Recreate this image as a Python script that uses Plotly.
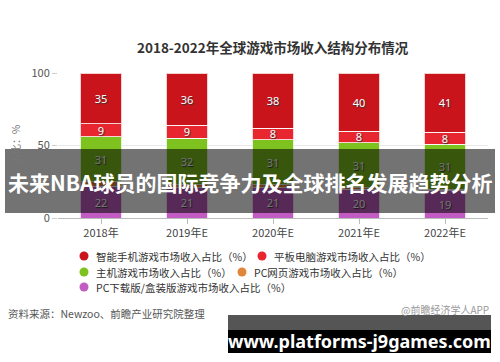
import plotly.graph_objects as go

categories = ["2018年", "2019年E", "2020年E", "2021年E", "2022年E"]
pc_download = [22, 21, 21, 20, 19]
pc_web = [3, 2, 2, 1, 1]
console = [31, 32, 31, 31, 31]
tablet = [9, 9, 8, 8, 8]
smartphone = [35, 36, 38, 40, 41]

series_names = [
    "PC下载版/盒装版游戏市场收入占比（%）",
    "PC网页游戏市场收入占比（%）",
    "主机游戏市场收入占比（%）",
    "平板电脑游戏市场收入占比（%）",
    "智能手机游戏市场收入占比（%）",
]
series_values = [pc_download, pc_web, console, tablet, smartphone]
colors = ["#c25bc2", "#e0863a", "#7dc21e", "#e8262f", "#c9141c"]
show_text = [True, False, True, True, True]

W, H = 500, 362
L, R, T, B = 58, 12, 73, 144
PW, PH = W - L - R, H - T - B


def px(x):
    return (x - L) / PW


def py(y):
    return (H - B - y) / PH


fig = go.Figure()
for name, vals, col, st in zip(series_names, series_values, colors, show_text):
    fig.add_trace(go.Bar(
        x=categories, y=vals, name=name,
        marker=dict(color=col, line=dict(color="rgba(255,255,255,0.8)", width=1)),
        text=[str(v) for v in vals] if st else None,
        textposition="inside", insidetextanchor="middle",
        textangle=0, constraintext="none",
        textfont=dict(color="white", size=11, family="Noto Sans",
                      shadow="1px 1px 1px #333"),
        showlegend=False,
        hoverinfo="skip",
    ))

font_cjk = "Noto Sans CJK SC"
annotations = []
shapes = []

# Title
annotations.append(dict(text="<b>2018-2022年全球游戏市场收入结构分布情况</b>",
                        x=0.5, xref="paper", y=py(47), yref="paper",
                        xanchor="center", yanchor="middle", showarrow=False,
                        font=dict(size=13.5, color="#333", family=font_cjk)))
# Y axis title
annotations.append(dict(text="占比：%", x=px(15), xref="paper", y=py(145), yref="paper",
                        textangle=-90, xanchor="center", yanchor="middle", showarrow=False,
                        font=dict(size=10, color="#777", family=font_cjk)))

# Manual legend
legend_layout = [
    (4, 84, 256), (3, 262, 256),
    (2, 84, 272), (1, 242, 272),
    (0, 84, 287),
]
for idx, mx, my in legend_layout:
    r = 4.5
    shapes.append(dict(type="circle", xref="paper", yref="paper",
                       x0=px(mx - r), x1=px(mx + r), y0=py(my + r), y1=py(my - r),
                       fillcolor=colors[idx], line=dict(width=0)))
    annotations.append(dict(text=series_names[idx], x=px(mx + 10), xref="paper",
                            y=py(my), yref="paper", xanchor="left", yanchor="middle",
                            showarrow=False,
                            font=dict(size=10.5, color="#333", family=font_cjk)))

# Source
annotations.append(dict(text="资料来源：Newzoo、前瞻产业研究院整理", x=px(6), xref="paper",
                        y=py(313), yref="paper", xanchor="left", yanchor="middle",
                        showarrow=False, font=dict(size=10.5, color="#555", family=font_cjk)))
annotations.append(dict(text="@前瞻经济学人APP", x=px(491), xref="paper",
                        y=py(309), yref="paper", xanchor="right", yanchor="middle",
                        showarrow=False, font=dict(size=10, color="#999", family=font_cjk)))

# Overlay banner
shapes.append(dict(type="rect", xref="paper", yref="paper", layer="above",
                   x0=px(5), x1=px(495), y0=py(213), y1=py(149),
                   fillcolor="rgba(0,0,0,0.55)", line=dict(width=0)))
annotations.append(dict(text="<b>未来NBA球员的国际竞争力及全球排名发展趋势分析</b>",
                        x=px(250), xref="paper", y=py(182), yref="paper",
                        xanchor="center", yanchor="middle", showarrow=False,
                        font=dict(size=21, color="white", family=font_cjk)))

# Bottom-right box
shapes.append(dict(type="rect", xref="paper", yref="paper", layer="above",
                   x0=px(228), x1=px(491), y0=py(330), y1=py(315),
                   fillcolor="#555555", line=dict(width=0)))
shapes.append(dict(type="rect", xref="paper", yref="paper", layer="above",
                   x0=px(228), x1=px(491), y0=py(353), y1=py(330),
                   fillcolor="#000000", line=dict(width=0)))
annotations.append(dict(text="<b>www.platforms-j9games.com</b>",
                        x=px(359), xref="paper", y=py(341), yref="paper",
                        xanchor="center", yanchor="middle", showarrow=False,
                        font=dict(size=18, color="white", family="Noto Sans")))

fig.update_layout(
    width=W, height=H,
    margin=dict(l=L, r=R, t=T, b=B, pad=0),
    barmode="stack", bargap=0.523,
    plot_bgcolor="white", paper_bgcolor="white",
    font=dict(family=font_cjk, color="#444"),
    xaxis=dict(showline=True, linecolor="#bbb", linewidth=1, ticks="outside",
               ticklen=5, tickcolor="#bbb", tickfont=dict(size=11, color="#444"),
               showgrid=False, fixedrange=True),
    yaxis=dict(range=[0, 100], tickvals=[0, 50, 100], showgrid=True, gridcolor="#e8e8e8",
               zeroline=False, ticks="outside", ticklen=5, tickcolor="#ccc",
               tickfont=dict(size=11, color="#555"), showline=False, fixedrange=True),
    annotations=annotations, shapes=shapes,
    showlegend=False,
)

fig.write_html("out.html")
